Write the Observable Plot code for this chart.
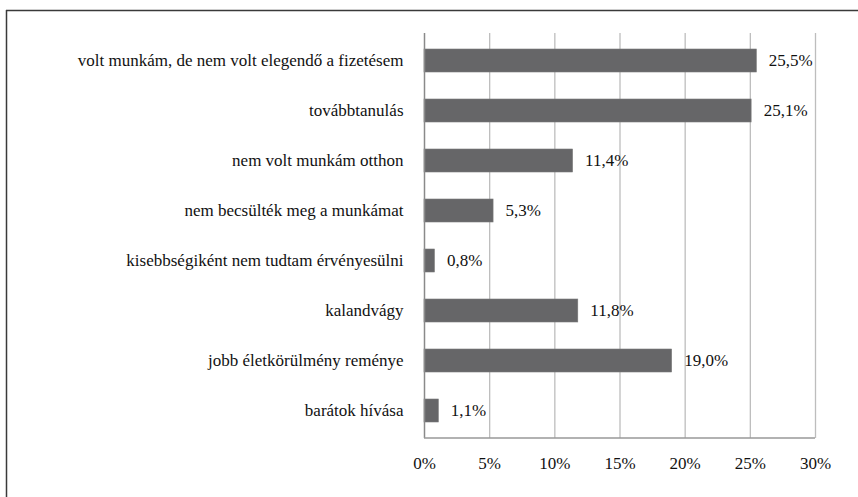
<!DOCTYPE html>
<html><head><meta charset="utf-8">
<script src="https://cdn.jsdelivr.net/npm/d3@7"></script>
<script src="https://cdn.jsdelivr.net/npm/@observablehq/plot@0.6"></script>
</head>
<body style="margin:0">
<script>
const categories = [
  "volt munkám, de nem volt elegendő a fizetésem",
  "továbbtanulás",
  "nem volt munkám otthon",
  "nem becsülték meg a munkámat",
  "kisebbségiként nem tudtam érvényesülni",
  "kalandvágy",
  "jobb életkörülmény reménye",
  "barátok hívása"
];
const values = [25.5, 25.1, 11.4, 5.3, 0.8, 11.8, 19.0, 1.1];
const tickValues = [0, 5, 10, 15, 20, 25, 30];

const data = categories.map((c, i) => ({cat: c, v: values[i]}));
const fmt = v => v.toFixed(1).replace(".", ",") + "%";
const FS = 17;
const FF = "'Liberation Serif', serif";

const chart = Plot.plot({
  width: 858, height: 497,
  marginLeft: 424, marginRight: 43, marginTop: 33, marginBottom: 59,
  style: {fontFamily: FF, fontSize: FS + "px"},
  x: {domain: [0, 30], ticks: tickValues, tickFormat: d => d + "%", label: null, tickSize: 0},
  y: {domain: categories, label: null, tickSize: 0, paddingInner: 0.547, paddingOuter: 0.26},
  marks: [
    Plot.ruleX(tickValues.filter(d => d > 0), {stroke: "#bdbdbd", strokeWidth: 1.3}),
    Plot.barX(data, {x: "v", y: "cat", fill: "#666668", stroke: "#7a7a7a", strokeWidth: 0.6}),
    Plot.ruleX([0], {stroke: "#8a8a8a", strokeWidth: 1.5}),
    Plot.text(data, {x: "v", y: "cat", text: d => fmt(d.v), textAnchor: "start", dx: 12, fill: "#111", fontSize: FS, fontFamily: FF}),
    Plot.axisX({ticks: tickValues, tickFormat: d => d + "%", tickSize: 0, tickPadding: 18, fontSize: FS, fontFamily: FF, fill: "#111", label: null}),
    Plot.axisY({tickSize: 0, tickPadding: 21, fontSize: FS, fontFamily: FF, fill: "#111", label: null})
  ]
});
document.body.appendChild(chart);
const svg = d3.select(chart);
svg.append("line").attr("x1", 424).attr("x2", 815).attr("y1", 438).attr("y2", 438).attr("stroke", "#999").attr("stroke-width", 1.5);
svg.append("line").attr("x1", 6).attr("x2", 858).attr("y1", 10.5).attr("y2", 10.5).attr("stroke", "#3a3a3a").attr("stroke-width", 1.5);
svg.append("line").attr("x1", 6.5).attr("x2", 6.5).attr("y1", 10).attr("y2", 497).attr("stroke", "#3a3a3a").attr("stroke-width", 1.5);
</script>
</body></html>
